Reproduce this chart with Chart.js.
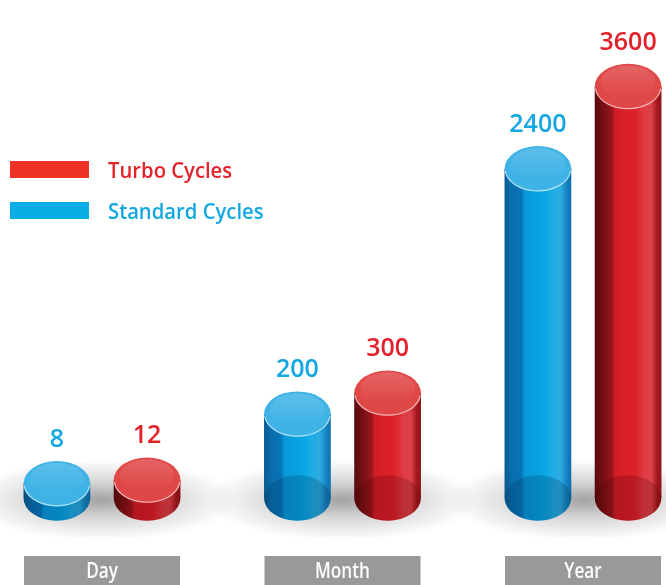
<!DOCTYPE html>
<html>
<head>
<meta charset="utf-8">
<title>Cycles</title>
<script src="https://cdn.jsdelivr.net/npm/chart.js@4.4.1/dist/chart.umd.min.js"></script>
<style>
  html, body { margin: 0; padding: 0; background: #fff; }
  #wrap { width: 666px; height: 585px; }
</style>
</head>
<body>
<div id="wrap"><canvas id="cylChart"></canvas></div>
<script>
// data
const periods = ["Day", "Month", "Year"];
const standardCycles = [8, 200, 2400];
const turboCycles = [12, 300, 3600];
const seriesNames = ["Standard Cycles", "Turbo Cycles"];
const legendOrder = [1, 0]; // turbo listed first

const blue = {
  key: '#0aaee6', label: '#14a7e2', text: '#13a8e2',
  body: [[0, '#0a5a8e'], [0.1, '#0a6dac'], [0.26, '#0675bb'], [0.3, '#0898da'], [0.6, '#08a6e4'], [0.72, '#1eace4'], [0.84, '#2eaadd'], [0.93, '#1384c4'], [1, '#0c6ea8']],
  cap: '#3fb3e6', floor: 'rgba(0,35,70,0.22)'
};
const red = {
  key: '#ee3124', label: '#e3212b', text: '#e4222a',
  body: [[0, '#560a0d'], [0.12, '#741015'], [0.26, '#9a151b'], [0.31, '#d31e27'], [0.6, '#dc2129'], [0.74, '#df3c44'], [0.85, '#da4149'], [0.93, '#a9191f'], [1, '#8c1419']],
  cap: '#e04848', floor: 'rgba(60,0,0,0.2)'
};
const palettes = [blue, red];
const capRatio = 0.68; // ellipse height / width

// sqrt-like power scale so the small values stay visible
class PowerScale extends Chart.LinearScale {
  static id = 'power';
  static defaults = Chart.LinearScale.defaults;
  getPixelForValue(value) {
    const k = 0.55;
    const lo = Math.pow(Math.max(this.min, 0), k);
    const hi = Math.pow(this.max, k);
    return this.getPixelForDecimal((Math.pow(Math.max(value, 0), k) - lo) / (hi - lo));
  }
  getValueForPixel(pixel) {
    const k = 0.55;
    const lo = Math.pow(Math.max(this.min, 0), k);
    const hi = Math.pow(this.max, k);
    return Math.pow(lo + this.getDecimalForPixel(pixel) * (hi - lo), 1 / k);
  }
}
Chart.register(PowerScale);

function condensedText(ctx, text, x, y, squeeze) {
  ctx.save();
  ctx.translate(x, y);
  ctx.scale(squeeze, 1);
  ctx.fillText(text, 0, 0);
  ctx.restore();
}

function drawCylinder(ctx, bar, pal) {
  const x = bar.x, top = bar.y, base = bar.base;
  const rx = bar.width / 2, ry = rx * capRatio;
  const L = x - rx, R = x + rx;

  const g = ctx.createLinearGradient(L, 0, R, 0);
  pal.body.forEach(s => g.addColorStop(s[0], s[1]));
  ctx.beginPath();
  ctx.moveTo(L, top);
  ctx.lineTo(L, base);
  ctx.ellipse(x, base, rx, ry, 0, Math.PI, 0, true);
  ctx.lineTo(R, top);
  ctx.closePath();
  ctx.fillStyle = g;
  ctx.fill();

  // bottom seen through the glass
  ctx.beginPath();
  ctx.ellipse(x, base, rx, ry, 0, 0, Math.PI * 2);
  ctx.fillStyle = pal.floor;
  ctx.fill();

  // top cap
  ctx.beginPath();
  ctx.ellipse(x, top, rx, ry, 0, 0, Math.PI * 2);
  ctx.fillStyle = pal.cap;
  ctx.fill();
  const hg = ctx.createLinearGradient(0, top - ry, 0, top + ry * 0.4);
  hg.addColorStop(0, 'rgba(255,255,255,0.16)');
  hg.addColorStop(1, 'rgba(255,255,255,0)');
  ctx.beginPath();
  ctx.ellipse(x, top - ry * 0.2, rx * 0.82, ry * 0.72, 0, 0, Math.PI * 2);
  ctx.fillStyle = hg;
  ctx.fill();
  ctx.beginPath();
  ctx.ellipse(x, top, rx - 0.6, ry - 0.6, 0, 0.1, Math.PI - 0.1);
  ctx.strokeStyle = 'rgba(255,255,255,0.6)';
  ctx.lineWidth = 1.2;
  ctx.stroke();
}

const cylinderPlugin = {
  id: 'cylinders',
  afterDatasetsDraw(chart) {
    const ctx = chart.ctx;
    const xs = chart.scales.x, ys = chart.scales.y;
    const base = ys.getPixelForValue(0);

    // soft floor shadow under each group
    periods.forEach((p, i) => {
      const cx = xs.getPixelForValue(i);
      ctx.save();
      ctx.translate(cx, base + 2);
      ctx.scale(1, 0.3);
      const sg = ctx.createRadialGradient(0, 0, 0, 0, 0, 135);
      sg.addColorStop(0, 'rgba(0,0,0,0.36)');
      sg.addColorStop(0.45, 'rgba(0,0,0,0.16)');
      sg.addColorStop(1, 'rgba(0,0,0,0)');
      ctx.fillStyle = sg;
      ctx.beginPath();
      ctx.arc(0, 0, 135, 0, Math.PI * 2);
      ctx.fill();
      ctx.restore();
    });

    chart.data.datasets.forEach((ds, di) => {
      const meta = chart.getDatasetMeta(di);
      meta.data.forEach((bar, i) => {
        drawCylinder(ctx, bar, palettes[di]);
        const ry = bar.width / 2 * capRatio;
        ctx.save();
        ctx.font = '600 25px "Open Sans"';
        ctx.fillStyle = palettes[di].label;
        ctx.textAlign = 'center';
        ctx.textBaseline = 'alphabetic';
        ctx.fillText(String(ds.data[i]), bar.x, bar.y - ry - 14);
        ctx.restore();
      });
    });
  },
  afterDraw(chart) {
    const ctx = chart.ctx;
    const xs = chart.scales.x;

    // category boxes
    periods.forEach((p, i) => {
      const cx = xs.getPixelForValue(i);
      ctx.fillStyle = '#999999';
      ctx.fillRect(cx - 78, 556, 156, 29);
      ctx.save();
      ctx.font = '600 22px "Open Sans"';
      ctx.fillStyle = '#ffffff';
      ctx.textAlign = 'center';
      ctx.textBaseline = 'alphabetic';
      condensedText(ctx, p, cx, 578, 0.78);
      ctx.restore();
    });

    // legend
    legendOrder.forEach((di, row) => {
      const y = 161 + row * 41;
      ctx.fillStyle = palettes[di].key;
      ctx.fillRect(10, y, 79, 17);
      ctx.save();
      ctx.font = '600 22px "Open Sans"';
      ctx.fillStyle = palettes[di].text;
      ctx.textAlign = 'left';
      ctx.textBaseline = 'alphabetic';
      condensedText(ctx, seriesNames[di], 108, y + 17, 0.92);
      ctx.restore();
    });
  }
};

new Chart(document.getElementById('cylChart'), {
  type: 'bar',
  data: {
    labels: periods,
    datasets: [
      { label: seriesNames[0], data: standardCycles, backgroundColor: 'rgba(0,0,0,0)' },
      { label: seriesNames[1], data: turboCycles, backgroundColor: 'rgba(0,0,0,0)' }
    ]
  },
  options: {
    responsive: true,
    maintainAspectRatio: false,
    animation: false,
    layout: { padding: { top: 62, bottom: 87, left: 102, right: 83 } },
    datasets: { bar: { categoryPercentage: 0.75, barPercentage: 0.74 } },
    plugins: {
      legend: { display: false },
      tooltip: { enabled: false }
    },
    scales: {
      x: { type: 'category', offset: false, display: false },
      y: { type: 'power', min: 0, max: 4000, display: false }
    }
  },
  plugins: [cylinderPlugin]
});
</script>
</body>
</html>
